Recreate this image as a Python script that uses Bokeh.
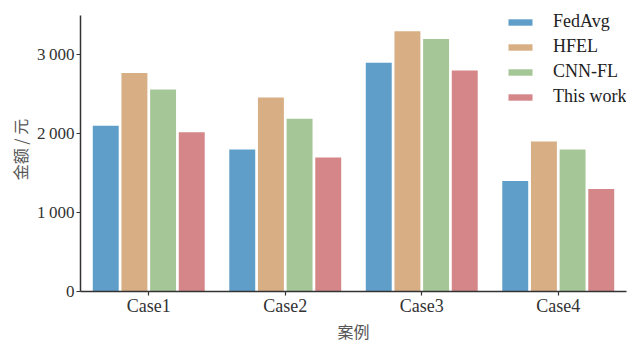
from bokeh.plotting import figure
from bokeh.models import FactorRange, Range1d, FixedTicker, Legend, LegendItem, ColumnDataSource
from bokeh.transform import dodge
from bokeh.embed import file_html
from bokeh.resources import INLINE

cases = ["Case1", "Case2", "Case3", "Case4"]
fedavg = [2100, 1800, 2900, 1400]
hfel = [2770, 2460, 3300, 1900]
cnnfl = [2560, 2190, 3200, 1800]
thiswork = [2020, 1700, 2800, 1300]
series_names = ["FedAvg", "HFEL", "CNN-FL", "This work"]
colors = ["#5f9ec9", "#d8ae84", "#a5c697", "#d58688"]
y_ticks = [0, 1000, 2000, 3000]
y_tick_labels = ["0", "1\u2009000", "2\u2009000", "3\u2009000"]

src = ColumnDataSource(dict(cases=cases, s0=fedavg, s1=hfel, s2=cnnfl, s3=thiswork))

p = figure(frame_width=546, frame_height=284, x_range=FactorRange(factors=cases, range_padding=0),
           y_range=Range1d(0, 3600), output_backend="svg", toolbar_location=None,
           min_border_left=80, min_border_right=2, min_border_top=7, min_border_bottom=40)
p.outline_line_color = None
p.xgrid.grid_line_color = None
p.ygrid.grid_line_color = None

offsets = [-0.315, -0.105, 0.105, 0.315]
renderers = []
for i, (name, col) in enumerate(zip(series_names, colors)):
    r = p.vbar(x=dodge("cases", offsets[i], range=p.x_range), top="s%d" % i, width=0.19,
               source=src, fill_color=col, line_color=None)
    renderers.append(r)

legend = Legend(items=[LegendItem(label=n, renderers=[r]) for n, r in zip(series_names, renderers)],
                location=(425, 184), padding=0, margin=0, spacing=4,
                glyph_width=30, glyph_height=8, label_height=21, label_standoff=18,
                label_text_font="Liberation Serif", label_text_font_size="18px",
                label_text_color="#222222", border_line_color=None, background_fill_alpha=0)
p.add_layout(legend, "center")

p.yaxis.ticker = FixedTicker(ticks=y_ticks)
p.yaxis.bounds = (0, 3500)
p.yaxis.major_label_overrides = {t: l for t, l in zip(y_ticks, y_tick_labels)}
p.yaxis.minor_tick_line_color = None
for ax in (p.xaxis[0], p.yaxis[0]):
    ax.axis_line_color = "#333333"
    ax.axis_line_width = 1.5
    ax.major_tick_line_color = "#333333"
    ax.major_tick_line_width = 1.2
    ax.major_tick_in = 0
    ax.major_tick_out = 4
    ax.major_label_text_font = "Liberation Serif"
    ax.major_label_text_color = "#333333"
    ax.axis_label_text_font = "Noto Sans CJK SC"
    ax.axis_label_text_font_size = "16px"
    ax.axis_label_text_font_style = "normal"
    ax.axis_label_text_color = "#555555"
p.xaxis.major_label_text_font_size = "18px"
p.yaxis.major_label_text_font_size = "17px"
p.xaxis.axis_label = "案例"
p.yaxis.axis_label = "金额 / 元"
p.xaxis.major_label_standoff = 0
p.yaxis.major_label_standoff = 2
p.xaxis.axis_label_standoff = 0
p.yaxis.axis_label_standoff = 2

open("out.html", "w").write(file_html(p, INLINE))
